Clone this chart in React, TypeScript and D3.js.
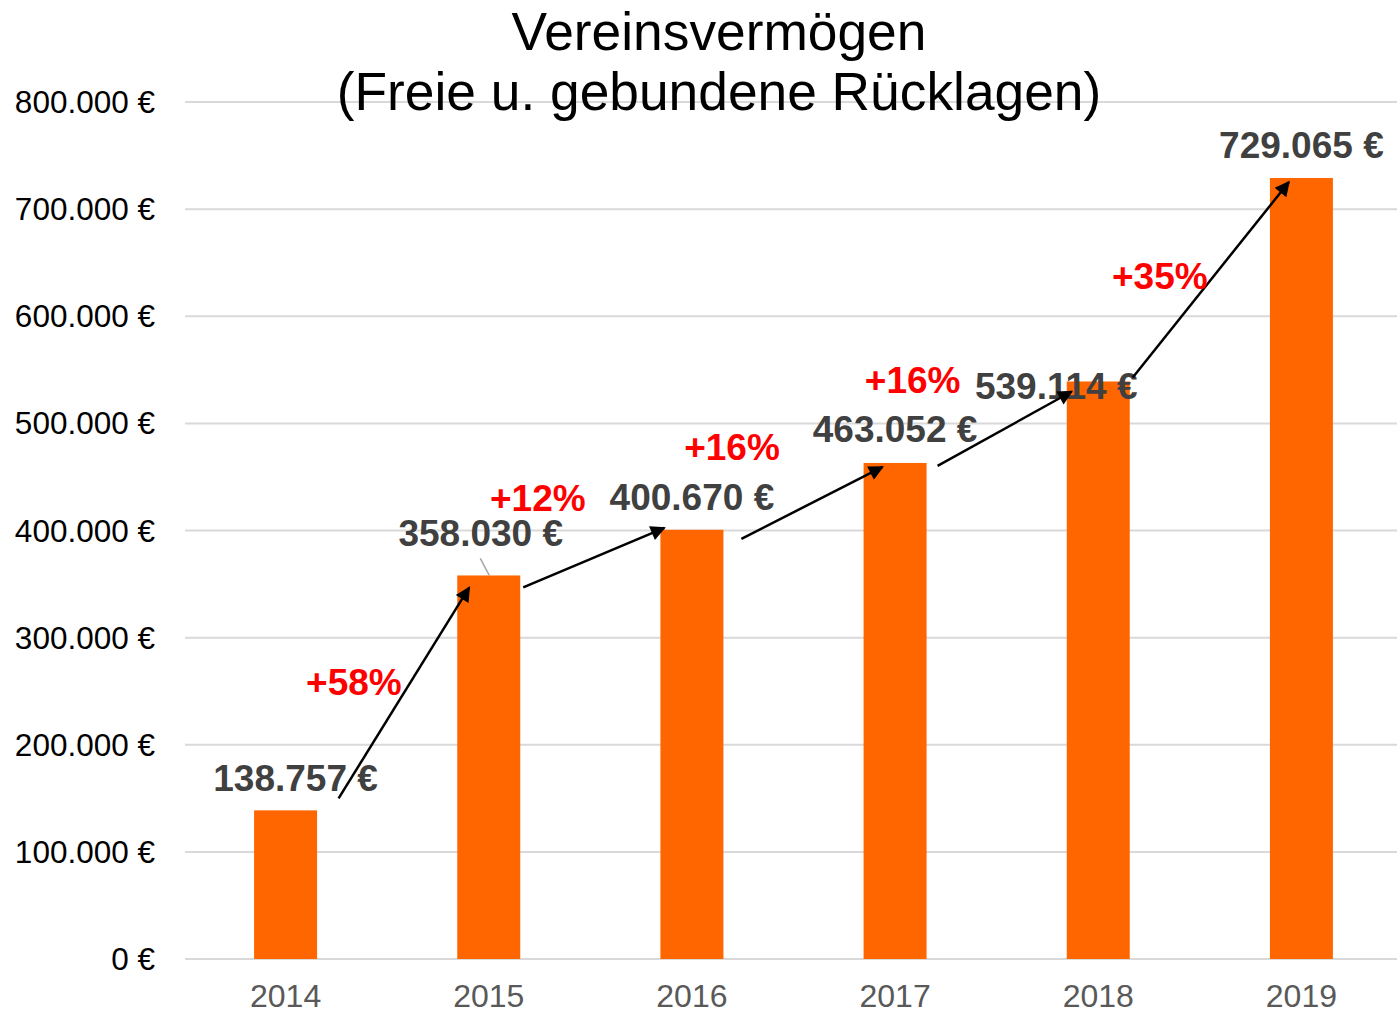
import React from "react";
import * as d3 from "d3";

const years = ["2014", "2015", "2016", "2017", "2018", "2019"];
const values = [138757, 358030, 400670, 463052, 539114, 729065];
const valueLabels = ["138.757 €", "358.030 €", "400.670 €", "463.052 €", "539.114 €", "729.065 €"];
const growthLabels = ["+58%", "+12%", "+16%", "+16%", "+35%"];
const yTicks = [0, 100000, 200000, 300000, 400000, 500000, 600000, 700000, 800000];
const yTickLabels = ["0 €", "100.000 €", "200.000 €", "300.000 €", "400.000 €", "500.000 €", "600.000 €", "700.000 €", "800.000 €"];
const titleLines = ["Vereinsvermögen", "(Freie u. gebundene Rücklagen)"];

const W = 1397;
const H = 1013;
const FONT = "'Liberation Sans', Arial, sans-serif";

export default function App() {
  const x = d3.scaleBand<string>().domain(years).range([184, 1403]).paddingInner(0.69).paddingOuter(0.345);
  const y = d3.scaleLinear().domain([0, 800000]).range([959, 102]);
  const bw = x.bandwidth();

  // label layout offsets (dx from bar center, dy from bar top)
  const labelOff = [
    [10, -19], [-8, -29], [0, -20], [0, -21], [-42, 18], [0, -20],
  ];
  // arrow layout: [fromDx (from band start), fromDy, toDx, toDy]
  const arrowOff = [
    [bw / 2 + 53, -12, 12, 12],
    [bw + 3, 12, 4, -2],
    [bw + 18, 9, 19, 4],
    [bw + 11, 3, 5, 10],
    [bw + 3, -4, 19, 4],
  ];
  const growthOff = [
    [-50, 2], [-56, -47], [-80, -43], [-92, -36], [-51, 9],
  ];

  const arrows = growthLabels.map((g, i) => {
    const x1 = (x(years[i]) as number) + arrowOff[i][0];
    const y1 = y(values[i]) + arrowOff[i][1];
    const x2 = (x(years[i + 1]) as number) + arrowOff[i][2];
    const y2 = y(values[i + 1]) + arrowOff[i][3];
    return { x1, y1, x2, y2, g, mx: (x1 + x2) / 2 + growthOff[i][0], my: (y1 + y2) / 2 + growthOff[i][1] };
  });

  return (
    <svg width={W} height={H} style={{ position: "absolute", left: 0, top: 0, background: "#fff" }} fontFamily={FONT}>
      <defs>
        <marker id="ah" viewBox="0 0 10 10" refX="9" refY="5" markerWidth="6.5" markerHeight="6" orient="auto" markerUnits="strokeWidth">
          <path d="M0,0 L10,5 L0,10 z" fill="#000" />
        </marker>
      </defs>
      {yTicks.map((t, i) => (
        <g key={t}>
          <line x1={185} x2={1397} y1={y(t)} y2={y(t)} stroke="#d9d9d9" strokeWidth={2} />
          <text x={155} y={y(t) + 11} textAnchor="end" fontSize={31.5} fill="#000">{yTickLabels[i]}</text>
        </g>
      ))}
      {years.map((yr, i) => (
        <g key={yr}>
          <rect x={x(yr)} y={y(values[i])} width={bw} height={y(0) - y(values[i])} fill="#ff6600" />
          <text x={(x(yr) as number) + bw / 2} y={1007} textAnchor="middle" fontSize={32} fill="#595959">{yr}</text>
        </g>
      ))}
      {/* leader line for 2015 */}
      <line x1={(x("2015") as number) + 23} y1={y(values[1]) - 17} x2={(x("2015") as number) + 32} y2={y(values[1])} stroke="#a6a6a6" strokeWidth={1.5} />
      {years.map((yr, i) => (
        <text key={"v" + yr} x={(x(yr) as number) + bw / 2 + labelOff[i][0]} y={y(values[i]) + labelOff[i][1]} textAnchor="middle" fontSize={37} fontWeight="bold" fill="#404040">{valueLabels[i]}</text>
      ))}
      {arrows.map((a, i) => (
        <g key={"a" + i}>
          <line x1={a.x1} y1={a.y1} x2={a.x2} y2={a.y2} stroke="#000" strokeWidth={2.5} markerEnd="url(#ah)" />
          <text x={a.mx} y={a.my} textAnchor="middle" fontSize={37} fontWeight="bold" fill="#ff0000">{a.g}</text>
        </g>
      ))}
      {titleLines.map((t, i) => (
        <text key={t} x={719} y={50 + i * 60} textAnchor="middle" fontSize={53.3} fill="#000">{t}</text>
      ))}
    </svg>
  );
}
